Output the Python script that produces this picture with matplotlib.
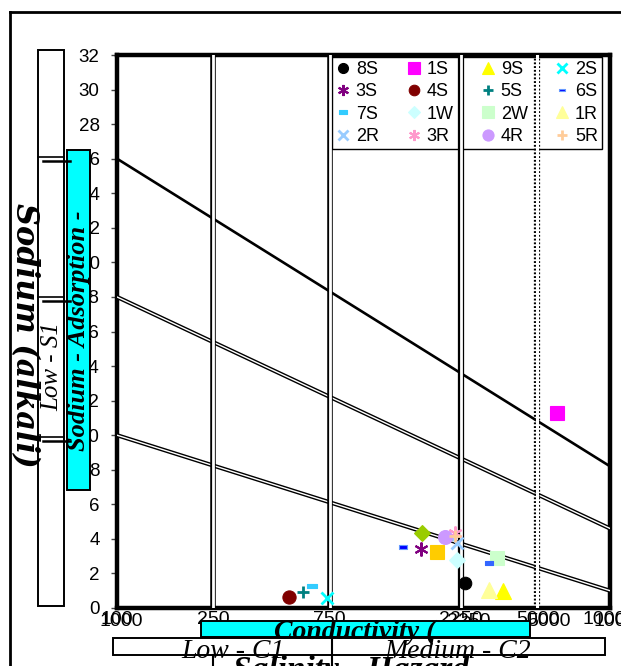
import matplotlib
matplotlib.use("Agg")
import matplotlib.pyplot as plt
from matplotlib.patches import Rectangle
from matplotlib.path import Path
from matplotlib.transforms import ScaledTranslation

# samples: conductivity (micromhos/cm) and sodium adsorption ratio
samples = ["8S", "1S", "9S", "2S", "3S", "4S", "5S", "6S",
           "7S", "1W", "2W", "1R", "2R", "3R", "4R", "5R"]
ec = [2580, 6100, 3680, 710, 1710, 500, 570, 1445,
      620, 2390, 3480, 3230, 2390, 2350, 2140, 2350]
sar = [1.45, 11.3, 1.0, 0.58, 3.41, 0.64, 0.93, 3.53,
       1.27, 2.78, 2.89, 1.04, 3.76, 4.34, 4.11, 4.17]

# series drawn on the chart but cut off from the legend
extra_ec = [1726, 1986, 3230]
extra_sar = [4.34, 3.24, 2.60]

# class boundaries as drawn on the diagram
class_ec = [245, 730, 2490, 5080]
class_labels = ["250", "750", "2250", "5000"]
sar_line_ec = [100, 10000]
sar_lines = [[26, 8.2], [18, 4.6], [10, 1.0]]
sar_ticks = list(range(0, 33, 2))

W, H = 621, 666
dash = Path([(-1, -0.4), (1, -0.4), (1, 0.4), (-1, 0.4), (-1, -0.4)])
aster = (6, 2, 0)

styles = {
    "8S": ("o", "#000000", 9), "1S": ("s", "#FF00FF", 10.5),
    "9S": ("^", "#FFFF00", 11), "2S": ("x", "#00FFFF", 8.5),
    "3S": (aster, "#800080", 10), "4S": ("o", "#800000", 9.5),
    "5S": ("+", "#008080", 9), "6S": (dash, "#0000FF", 6),
    "7S": (dash, "#33CCFF", 7), "1W": ("D", "#CCFFFF", 8),
    "2W": ("s", "#CCFFCC", 10), "1R": ("^", "#FFFF99", 11),
    "2R": ("x", "#99CCFF", 8.5), "3R": (aster, "#FF99CC", 10),
    "4R": ("o", "#CC99FF", 10), "5R": ("+", "#FFCC99", 9),
}
extra_styles = [("D", "#99CC00", 8), ("s", "#FFCC00", 10), (dash, "#3366FF", 6)]

fig = plt.figure(figsize=(W / 100, H / 100), dpi=100)
ax = fig.add_axes([117 / W, 1 - 608 / H, 493 / W, 553 / H])
ax.set_xscale("log")
ax.set_xlim(100, 10000)
ax.set_ylim(0, 32)

# sloped SAR class lines
for i, (y0, y1) in enumerate(sar_lines):
    if i == 0:
        ax.plot(sar_line_ec, [y0, y1], color="black", lw=1.9, zorder=3)
    else:
        ax.plot(sar_line_ec, [y0, y1], color="black", lw=3.0, zorder=3)
        ax.plot(sar_line_ec, [y0, y1], color="white", lw=1.0, zorder=3)

# vertical conductivity class lines
for i, x in enumerate(class_ec):
    if i == 3:
        ax.axvline(x, color="black", lw=4.5, ls=(0, (0.3, 0.3)), zorder=3)
        ax.axvline(x, color="white", lw=2.2, zorder=3)
    else:
        ax.axvline(x, color="black", lw=4.5 if i == 2 else 4.0, zorder=3)
        ax.axvline(x, color="white", lw=2.0, zorder=3)

handles = {}
for name, x, y in zip(samples, ec, sar):
    m, c, s = styles[name]
    mew = 2 if m in ("x", "+") else 1.5 if m == aster else 0.8
    ec_col = "#6699FF" if name == "6S" else c
    h, = ax.plot([x], [y], ls="none", marker=m, ms=s, color=c,
                 mec=ec_col, mew=mew, label=name, zorder=4)
    handles[name] = h
for x, y, (m, c, s) in zip(extra_ec, extra_sar, extra_styles):
    ax.plot([x], [y], ls="none", marker=m, ms=s, color=c, mec=c, mew=0.8, zorder=4)

for sp in ax.spines.values():
    sp.set_linewidth(3.2)
ax.set_yticks(sar_ticks)
ax.set_yticklabels([str(t) for t in sar_ticks], fontsize=13.5, family="Liberation Sans")
ax.tick_params(axis="y", direction="out", length=4.5, width=1, color="#444444", pad=8)
ax.set_xticks([100] + class_ec + [10000])
ax.set_xticklabels(["100"] + class_labels + ["10000"], fontsize=14, family="Liberation Sans")
ax.minorticks_off()
ax.tick_params(axis="x", length=0, pad=2)

# doubled labels as they appear on the original
dup = [(100, "1000", 4), (2490, "2250", 8), (5080, "5000", 11), (10000, "1000", 5)]
for x, s, off in dup:
    t = ax.text(x, 0, s, fontsize=14, family="Liberation Sans", ha="center", va="top",
                clip_on=False,
                transform=ax.get_xaxis_transform()
                + ScaledTranslation(off / 100, -4.5 / 100, fig.dpi_scale_trans))

order = [samples[r * 4 + c] for c in range(4) for r in range(4)]
leg = ax.legend([handles[n] for n in order], order, ncol=4, loc="upper left",
                bbox_to_anchor=(332 / W, 1 - 147 / H, 270 / W, 90 / H),
                bbox_transform=fig.transFigure, mode="expand",
                borderaxespad=0, fancybox=False, framealpha=1, edgecolor="black",
                prop={"family": "Liberation Sans", "size": 13}, markerscale=0.8,
                handlelength=0.8, handletextpad=0.3, columnspacing=1.2,
                labelspacing=0.3, borderpad=0.22)
leg.get_frame().set_linewidth(1.0)
leg.set_zorder(2)

# overlay in pixel coordinates for the boxes and axis captions
ov = fig.add_axes([0, 0, 1, 1], zorder=5)
ov.set_xlim(0, W)
ov.set_ylim(H, 0)
ov.axis("off")
ov.patch.set_visible(False)

ov.plot([10, W + 5], [12, 12], color="black", lw=2)
ov.plot([10, 10], [12, H + 5], color="black", lw=2)

serif = "Liberation Serif"
tall = Rectangle((38, 50), 26, 556, facecolor="white", edgecolor="black", lw=1.4)
ov.add_patch(tall)
for y in (157, 297, 437):
    ov.plot([38, 64], [y, y], color="black", lw=1.2)
    ov.plot([43, 70], [y + 4, y + 4], color="black", lw=1.8)
t = ov.text(52, 367, "Low - S1", rotation=90, ha="center", va="center",
            fontsize=18, family=serif, style="italic")
t.set_clip_path(tall)

cyan_l = Rectangle((67, 150), 23, 340, facecolor="#00FFFF", edgecolor="black", lw=1.4)
ov.add_patch(cyan_l)
ov.text(79, 331, "Sodium - Adsorption -", rotation=90, ha="center", va="center",
        fontsize=19, family=serif, style="italic", weight="bold")
ov.text(24, 335, "Sodium (alkali)", rotation=-90, ha="center", va="center",
        fontsize=22, family="DejaVu Serif", style="italic", weight="bold")

cyan_b = Rectangle((201, 621), 329, 16, facecolor="#00FFFF", edgecolor="black", lw=1.4)
ov.add_patch(cyan_b)
t = ov.text(355, 620, "Conductivity (", ha="center", va="top",
            fontsize=20, family=serif, style="italic", weight="bold")
t.set_clip_path(cyan_b)

white_b = Rectangle((113, 638), 492, 17, facecolor="white", edgecolor="black", lw=1.4)
ov.add_patch(white_b)
for x, s in ((233, "Low - C1"), (458, "Medium - C2")):
    t = ov.text(x, 639, s, ha="center", va="top", fontsize=20, family=serif, style="italic")
    t.set_clip_path(white_b)
ov.plot([213, 213], [655, H + 5], color="black", lw=1.5)
ov.plot([332, 332], [640, H + 5], color="black", lw=1.5)
ov.text(351, 655, "Salinity - Hazard", ha="center", va="top",
        fontsize=24, family=serif, style="italic", weight="bold")

fig.savefig("out.png", dpi=100)
